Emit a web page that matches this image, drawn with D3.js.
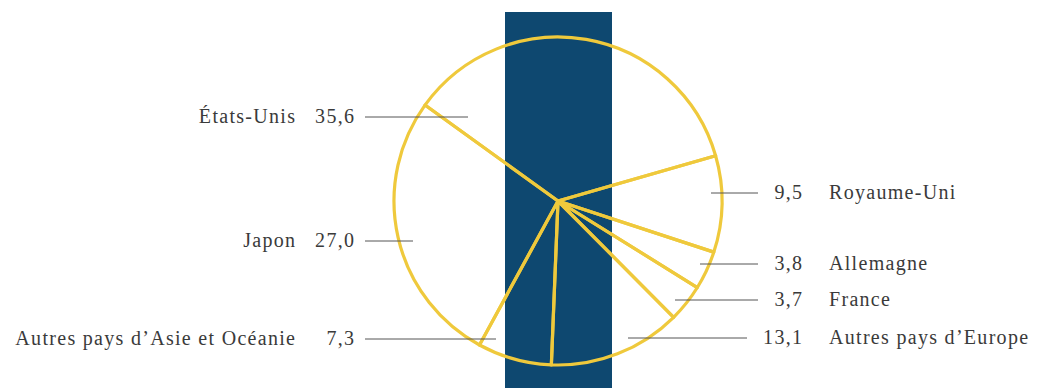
<!DOCTYPE html>
<html>
<head>
<meta charset="utf-8">
<script src="https://cdn.jsdelivr.net/npm/d3@7"></script>
<style>
  html, body { margin: 0; padding: 0; background: #fff; }
  svg { display: block; }
  .lbl { font-family: "Liberation Serif", "Times New Roman", serif; font-size: 20px; fill: #3a3a3a; letter-spacing: 1.3px; }
</style>
</head>
<body>
<svg id="chart" width="1039" height="388"></svg>
<script>
// Share by destination (%), in clockwise order starting with États-Unis
const countries = ["États-Unis", "Royaume-Uni", "Allemagne", "France", "Autres pays d’Europe", "Autres pays d’Asie et Océanie", "Japon"];
const shares = [35.6, 9.5, 3.8, 3.7, 13.1, 7.3, 27.0];
const sides = ["left", "right", "right", "right", "right", "left", "left"];

// Annotation layout: label row y and where each leader line meets the pie
const labelY = [117, 193, 264, 300, 338, 339, 241];
const leaderEndX = [468, 711, 700, 675, 628, 496, 413];

const width = 1039, height = 388;
const cx = 558, cy = 201, radius = 164;
const yellow = "#efc93c";
const navy = "#0e4870";

const svg = d3.select("#chart");

// Vertical band behind the pie
svg.append("rect")
  .attr("x", 505).attr("y", 12)
  .attr("width", 107).attr("height", height - 12)
  .attr("fill", navy);

const pie = d3.pie().sort(null).value(d => d)
  .startAngle(-54.2 * Math.PI / 180)
  .endAngle(-54.2 * Math.PI / 180 + 2 * Math.PI);
const arcs = pie(shares);
const arc = d3.arc().innerRadius(0).outerRadius(radius);

const g = svg.append("g").attr("transform", `translate(${cx},${cy})`);

// Decimal comma formatting
const fmt = d3.formatLocale({ decimal: ",", thousands: " ", grouping: [3], currency: ["", " €"] }).format(".1f");

// Leader lines (drawn beneath the outlines)
const leaders = svg.append("g");
countries.forEach((name, i) => {
  const y = labelY[i];
  const left = sides[i] === "left";
  const x1 = left ? 365 : leaderEndX[i];
  const x2 = left ? leaderEndX[i] : (i === 4 ? 747 : 758);
  leaders.append("line")
    .attr("x1", x1).attr("x2", x2).attr("y1", y).attr("y2", y)
    .attr("stroke", "#555").attr("stroke-width", 1);
});

g.selectAll("path.slice")
  .data(arcs)
  .join("path")
  .attr("class", "slice")
  .attr("d", arc)
  .attr("fill", "none")
  .attr("stroke", yellow)
  .attr("stroke-width", 3.2)
  .attr("stroke-linejoin", "round");

// Labels: value next to the leader line, name beyond it
const labels = svg.append("g");
const sp = 1.3; // trailing letter-spacing on end-anchored text
countries.forEach((name, i) => {
  const y = labelY[i] + 6;
  if (sides[i] === "left") {
    labels.append("text").attr("class", "lbl")
      .attr("x", 354 + sp).attr("y", y).attr("text-anchor", "end").text(fmt(shares[i]));
    labels.append("text").attr("class", "lbl")
      .attr("x", 295 + sp).attr("y", y).attr("text-anchor", "end").text(name);
  } else {
    labels.append("text").attr("class", "lbl")
      .attr("x", 802 + sp).attr("y", y).attr("text-anchor", "end").text(fmt(shares[i]));
    labels.append("text").attr("class", "lbl")
      .attr("x", 829).attr("y", y).attr("text-anchor", "start").text(name);
  }
});
</script>
</body>
</html>
